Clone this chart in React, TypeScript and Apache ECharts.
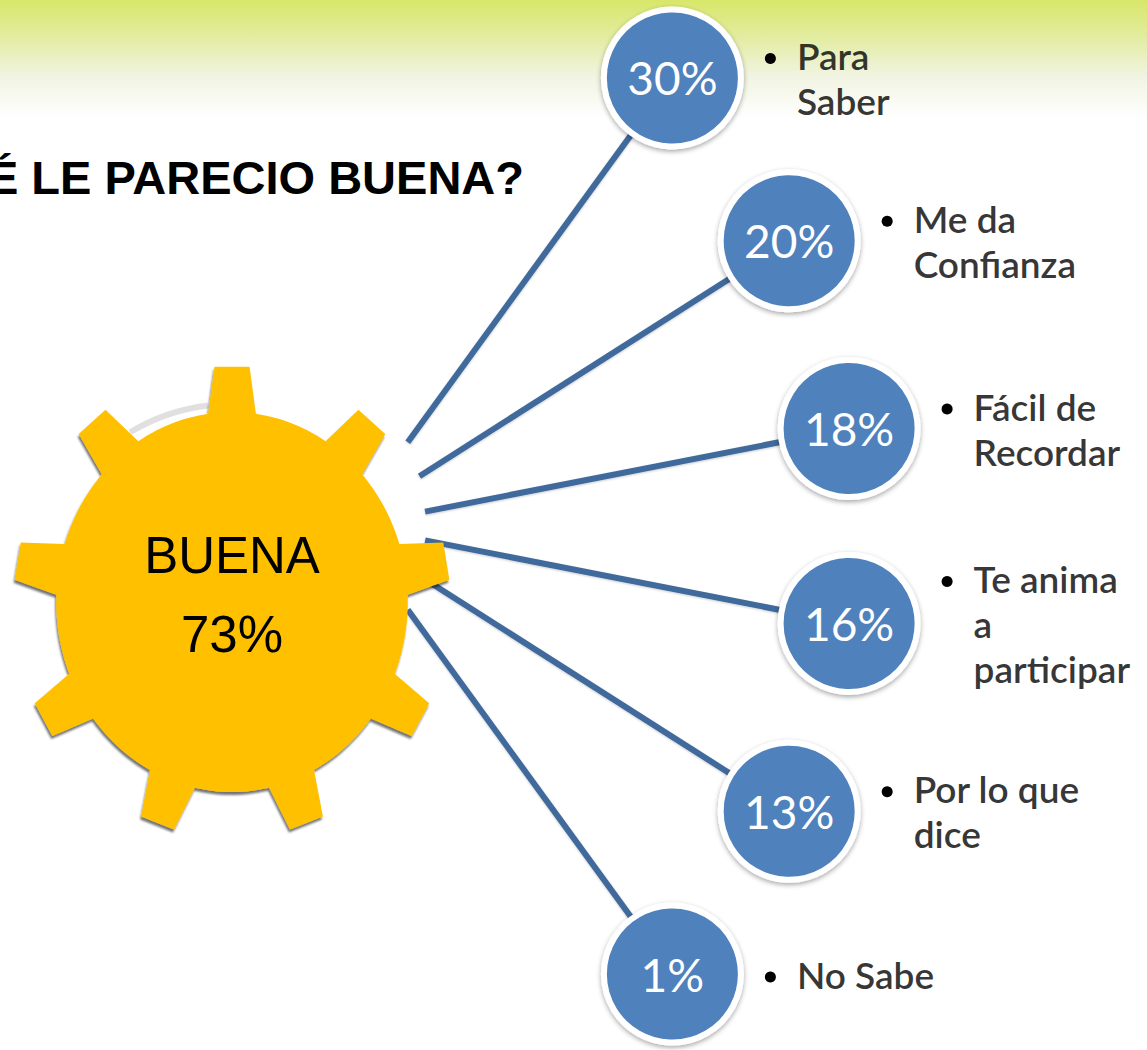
import React, { useEffect, useRef } from "react";
import * as echarts from "echarts";

// ---- data ----
const categories = [
  "Para\nSaber",
  "Me da\nConfianza",
  "Fácil de\nRecordar",
  "Te anima\na\nparticipar",
  "Por lo que\ndice",
  "No Sabe",
];
const percents = [30, 20, 18, 16, 13, 1];
const hubLabel = "BUENA";
const hubValue = 73;
const titleText = "É LE PARECIO BUENA?";

// ---- layout (positions only) ----
const W = 1147;
const H = 1050;
const ringCenter = [219.6, 526];
const ringRadius = 637;
const ringAngles = [-44.7, -26.6, -8.8, 8.8, 26.6, 44.7];
const spokeStartRadius = 206;
const spokeStartAngles = [-24, -14, -4, 4, 14, 24];
const gearCenter = [232, 602];
const LINE_H = 45;

const rad = (d: number) => (d * Math.PI) / 180;
const ringPos = (r: number, a: number) => [
  ringCenter[0] + r * Math.cos(rad(a)),
  ringCenter[1] + r * Math.sin(rad(a)),
];

function gearPoints() {
  const [cx, cy] = gearCenter;
  const rb = 190, rt = 236, sx = 0.925, n = 9;
  const hb = rad(7.8), ht = rad(4.6);
  const P = (r: number, t: number) => [cx + sx * r * Math.sin(t), cy - r * Math.cos(t)];
  const pts: number[][] = [];
  for (let i = 0; i < n; i++) {
    const a = (i * 2 * Math.PI) / n;
    pts.push(P(rb, a - hb), P(rt, a - ht), P(rt, a + ht), P(rb, a + hb));
    const nx = ((i + 1) * 2 * Math.PI) / n;
    const s = a + hb, e = nx - hb;
    for (let k = 1; k < 14; k++) pts.push(P(rb, s + ((e - s) * k) / 14));
  }
  return pts;
}

export default function App() {
  const ref = useRef<HTMLDivElement>(null);
  useEffect(() => {
    document.body.style.margin = "0";
    const chart = echarts.init(ref.current!, undefined, { renderer: "svg" });

    const circleData = percents.map((p, i) => {
      const [x, y] = ringPos(ringRadius, ringAngles[i]);
      return [x, y, p];
    });
    const spokes = percents.map((_, i) => ({
      coords: [ringPos(spokeStartRadius, spokeStartAngles[i]), ringPos(ringRadius, ringAngles[i])],
    }));
    const bulletData = categories.map((c, i) => {
      const [x, y] = ringPos(ringRadius, ringAngles[i]);
      const n = c.split("\n").length;
      return [x + 98, y - ((n - 1) * LINE_H) / 2 + 3];
    });
    const textData = categories.map((c, i) => {
      const [x, y] = ringPos(ringRadius, ringAngles[i]);
      return { value: [x + 124, y], name: c };
    });

    chart.setOption({
      animation: false,
      grid: { left: 0, right: 0, top: 0, bottom: 0, containLabel: false },
      xAxis: { type: "value", min: 0, max: W, show: false },
      yAxis: { type: "value", min: 0, max: H, inverse: true, show: false },
      graphic: [
        {
          type: "rect",
          z: -5,
          silent: true,
          shape: { x: 0, y: 0, width: W, height: 118 },
          style: {
            fill: new echarts.graphic.LinearGradient(0, 0, 0, 1, [
              { offset: 0, color: "#d8e76a" },
              { offset: 0.3, color: "#e2ec9e" },
              { offset: 0.65, color: "#f1f4e2" },
              { offset: 1, color: "#ffffff" },
            ]),
          },
        },
        {
          type: "text",
          z: 10,
          style: {
            text: titleText,
            x: 524,
            y: 177,
            align: "right",
            verticalAlign: "middle",
            font: "bold 47px 'Liberation Sans', Arial, sans-serif",
            fill: "#000",
          },
        },
        {
          type: "arc",
          z: 3,
          silent: true,
          shape: { cx: gearCenter[0], cy: gearCenter[1], r: 198, startAngle: rad(-121), endAngle: rad(-97) },
          style: { stroke: "#e0e0e0", lineWidth: 6, fill: "none" },
        },
        {
          type: "polygon",
          z: 4,
          silent: true,
          shape: { points: gearPoints() },
          style: {
            fill: "#ffc000",
            shadowBlur: 2,
            shadowColor: "rgba(0,0,0,0.55)",
            shadowOffsetX: -1,
            shadowOffsetY: 3,
          },
        },
        {
          type: "text",
          z: 5,
          style: {
            text: hubLabel,
            x: gearCenter[0],
            y: 555,
            align: "center",
            verticalAlign: "middle",
            font: "51px 'Liberation Sans', Arial, sans-serif",
            fill: "#000",
          },
        },
        {
          type: "text",
          z: 5,
          style: {
            text: hubValue + "%",
            x: gearCenter[0],
            y: 634,
            align: "center",
            verticalAlign: "middle",
            font: "51px 'Liberation Sans', Arial, sans-serif",
            fill: "#000",
          },
        },
      ],
      series: [
        {
          type: "lines",
          coordinateSystem: "cartesian2d",
          z: 2,
          silent: true,
          symbol: "none",
          lineStyle: {
            color: "#41699c",
            width: 6,
            opacity: 1,
            shadowBlur: 2,
            shadowColor: "rgba(0,0,0,0.2)",
            shadowOffsetY: 1,
          },
          data: spokes,
        },
        {
          type: "scatter",
          z: 6,
          silent: true,
          symbol: "circle",
          symbolSize: 137,
          itemStyle: {
            color: "#4f81bd",
            borderColor: "#ffffff",
            borderWidth: 6,
            shadowBlur: 5,
            shadowColor: "rgba(0,0,0,0.35)",
            shadowOffsetY: 2,
            opacity: 1,
          },
          label: {
            show: true,
            position: "inside",
            formatter: (p: any) => p.value[2] + "%",
            color: "#ffffff",
            fontFamily: "Lato",
            fontSize: 46,
          },
          data: circleData,
        },
        {
          type: "scatter",
          z: 6,
          silent: true,
          symbol: "circle",
          symbolSize: 11,
          itemStyle: { color: "#000000", opacity: 1 },
          data: bulletData,
        },
        {
          type: "scatter",
          z: 6,
          silent: true,
          symbol: "circle",
          symbolSize: 1,
          itemStyle: { color: "rgba(0,0,0,0)" },
          label: {
            show: true,
            position: "right",
            distance: 0,
            formatter: (p: any) => p.name,
            color: "#000000",
            fontFamily: "Lato",
            fontWeight: 600,
            fontSize: 37,
            lineHeight: LINE_H,
          },
          data: textData,
        },
      ],
    });
    return () => chart.dispose();
  }, []);
  return <div ref={ref} style={{ width: W, height: H }} />;
}
